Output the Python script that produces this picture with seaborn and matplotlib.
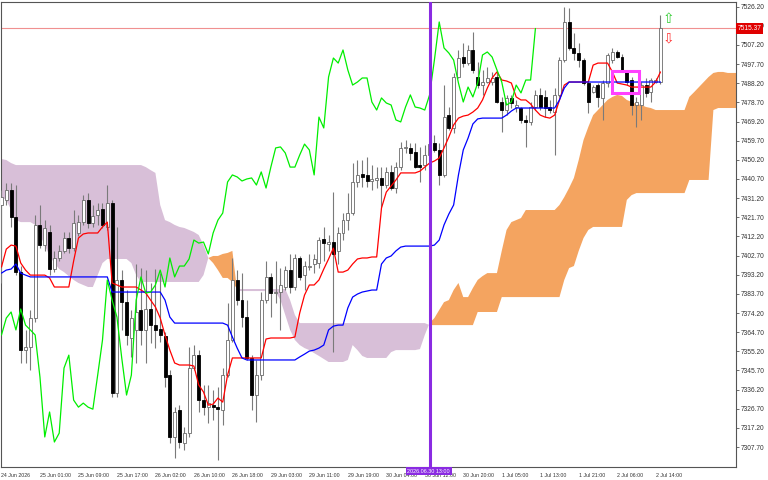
import matplotlib
matplotlib.use("Agg")
import matplotlib.pyplot as plt
import matplotlib.transforms as mtransforms
from matplotlib.patches import Rectangle
import numpy as np
import pandas as pd
import seaborn as sns

# ── hourly candles (bar index 0 .. 137) ────────────────────────────────────
opens = [
    7427.8, 7430.3, 7435.2, 7421.8, 7394.5, 7355.8, 7357.3, 7371.7, 7417.9, 7407.9,
    7414.4, 7396.0, 7401.5, 7405.0, 7411.4, 7406.4, 7413.9, 7419.3, 7430.3, 7418.8,
    7422.8, 7425.8, 7416.9, 7428.8, 7334.5, 7390.6, 7379.6, 7361.8, 7365.8, 7375.7,
    7365.8, 7376.2, 7368.2, 7366.3, 7362.8, 7343.4, 7312.7, 7326.1, 7309.7, 7314.6,
    7346.9, 7353.3, 7331.0, 7327.5, 7328.5, 7327.5, 7326.1, 7343.4, 7360.8, 7390.6,
    7380.6, 7372.2, 7351.9, 7333.5, 7343.4, 7380.6, 7392.1, 7384.1, 7384.6, 7387.1,
    7395.5, 7387.1, 7401.5, 7393.0, 7397.0, 7398.5, 7399.0, 7410.9, 7408.4, 7409.4,
    7405.0, 7413.9, 7420.3, 7423.8, 7439.2, 7443.2, 7442.7, 7439.7, 7440.2, 7441.2,
    7437.7, 7444.2, 7436.2, 7446.6, 7456.1, 7456.1, 7454.1, 7447.6, 7447.6, 7452.6,
    7458.5, 7455.1, 7442.7, 7472.4, 7466.0, 7491.3, 7501.2, 7498.2, 7504.7, 7491.3,
    7487.3, 7488.8, 7488.8, 7491.3, 7478.9, 7474.9, 7480.9, 7476.4, 7475.9, 7470.0,
    7469.0, 7476.4, 7482.4, 7481.4, 7476.4, 7473.9, 7482.4, 7499.7, 7518.6, 7505.7,
    7503.2, 7499.7, 7488.3, 7483.8, 7487.3, 7480.9, 7488.3, 7499.7, 7503.7, 7501.2,
    7493.8, 7489.8, 7477.4, 7477.4, 7487.3, 7483.8, 7488.8, 7488.8,
]
highs = [
    7435.2, 7438.7, 7438.7, 7437.7, 7397.5, 7365.8, 7375.7, 7422.8, 7427.8, 7420.3,
    7417.9, 7405.0, 7407.9, 7414.4, 7414.4, 7425.3, 7422.8, 7432.7, 7433.7, 7427.8,
    7428.8, 7428.8, 7437.7, 7430.3, 7416.9, 7395.5, 7385.6, 7375.7, 7398.5, 7396.5,
    7395.5, 7389.1, 7396.0, 7394.0, 7364.8, 7345.9, 7327.5, 7328.5, 7317.6, 7357.3,
    7358.3, 7355.8, 7338.5, 7338.5, 7336.0, 7337.5, 7346.9, 7379.1, 7401.5, 7395.5,
    7394.0, 7380.6, 7353.3, 7350.9, 7384.6, 7400.0, 7394.0, 7400.0, 7396.5, 7397.5,
    7403.5, 7403.5, 7402.5, 7400.0, 7403.5, 7403.5, 7411.9, 7416.9, 7412.9, 7434.2,
    7416.9, 7423.8, 7433.7, 7448.6, 7450.1, 7450.1, 7451.6, 7447.6, 7446.6, 7446.6,
    7446.6, 7447.6, 7449.1, 7459.0, 7460.0, 7458.5, 7458.5, 7456.6, 7457.5, 7461.0,
    7462.5, 7458.5, 7487.3, 7476.4, 7493.3, 7504.7, 7508.2, 7507.2, 7513.6, 7498.7,
    7494.8, 7496.3, 7493.8, 7493.3, 7481.4, 7482.4, 7482.4, 7479.9, 7476.4, 7472.4,
    7478.9, 7484.8, 7485.8, 7484.8, 7479.9, 7485.8, 7501.2, 7526.0, 7525.5, 7513.1,
    7508.2, 7500.7, 7488.8, 7487.3, 7488.3, 7489.8, 7503.2, 7505.7, 7504.7, 7502.7,
    7494.8, 7491.3, 7481.4, 7488.8, 7490.8, 7490.8, 7490.8, 7522.1,
]
lows = [
    7389.1, 7427.8, 7416.9, 7393.0, 7349.4, 7349.4, 7345.9, 7369.7, 7406.4, 7405.0,
    7393.0, 7394.5, 7400.0, 7404.0, 7404.0, 7405.0, 7412.4, 7417.9, 7416.4, 7416.9,
    7417.9, 7416.4, 7415.4, 7332.5, 7332.5, 7365.8, 7358.3, 7352.4, 7349.4, 7358.3,
    7349.4, 7359.3, 7356.8, 7359.8, 7337.5, 7309.7, 7302.2, 7307.2, 7306.2, 7312.7,
    7345.9, 7325.1, 7323.6, 7319.6, 7321.1, 7301.2, 7318.6, 7342.4, 7359.8, 7378.2,
    7367.2, 7350.9, 7326.1, 7320.1, 7340.9, 7379.1, 7372.2, 7379.1, 7365.8, 7385.6,
    7384.1, 7385.6, 7390.6, 7385.6, 7395.5, 7394.0, 7396.5, 7400.0, 7405.0, 7354.8,
    7398.5, 7410.4, 7415.4, 7422.8, 7436.7, 7436.7, 7436.7, 7435.2, 7436.2, 7426.8,
    7436.2, 7435.2, 7433.7, 7445.1, 7453.6, 7450.1, 7446.1, 7439.2, 7445.1, 7450.1,
    7454.1, 7437.7, 7441.7, 7465.0, 7463.5, 7490.8, 7496.3, 7497.2, 7493.3, 7485.8,
    7482.4, 7488.3, 7487.3, 7478.4, 7464.0, 7472.4, 7475.9, 7473.9, 7468.5, 7456.6,
    7467.5, 7474.9, 7474.9, 7471.4, 7473.4, 7452.6, 7481.4, 7498.7, 7504.7, 7499.7,
    7496.3, 7487.3, 7473.4, 7483.4, 7476.4, 7470.0, 7486.3, 7498.2, 7500.7, 7493.8,
    7487.3, 7472.4, 7466.5, 7470.0, 7481.4, 7478.9, 7488.3, 7487.8,
]
closes = [
    7431.7, 7435.2, 7421.8, 7394.5, 7355.8, 7357.3, 7371.7, 7417.9, 7407.9, 7416.4,
    7396.0, 7401.5, 7405.0, 7411.4, 7406.4, 7418.8, 7419.3, 7430.3, 7418.8, 7422.3,
    7425.3, 7417.9, 7428.8, 7334.5, 7390.6, 7379.6, 7363.3, 7371.7, 7374.7, 7365.8,
    7376.2, 7368.2, 7365.8, 7363.3, 7342.4, 7312.7, 7325.1, 7310.2, 7314.6, 7346.9,
    7353.3, 7331.0, 7327.5, 7329.5, 7327.5, 7326.5, 7343.4, 7360.8, 7390.6, 7380.6,
    7372.2, 7351.9, 7333.5, 7343.4, 7380.6, 7392.1, 7384.1, 7384.6, 7388.1, 7395.5,
    7387.1, 7401.5, 7392.1, 7397.5, 7397.5, 7401.0, 7410.4, 7408.9, 7409.4, 7403.5,
    7413.9, 7420.3, 7423.8, 7439.2, 7442.7, 7441.7, 7439.7, 7440.7, 7441.2, 7437.7,
    7444.2, 7436.2, 7446.6, 7456.1, 7456.6, 7453.6, 7446.6, 7446.6, 7452.6, 7458.0,
    7455.1, 7442.7, 7471.4, 7466.0, 7491.3, 7500.7, 7498.2, 7504.7, 7494.8, 7487.3,
    7488.8, 7490.8, 7490.8, 7478.9, 7474.9, 7480.9, 7478.4, 7477.4, 7470.0, 7469.0,
    7476.4, 7482.4, 7476.4, 7475.9, 7474.9, 7482.4, 7499.7, 7518.6, 7505.7, 7503.2,
    7499.7, 7488.3, 7478.9, 7486.3, 7481.4, 7488.3, 7502.2, 7503.7, 7501.2, 7494.8,
    7488.8, 7477.4, 7478.9, 7487.3, 7483.4, 7489.8, 7489.8, 7515.37,
]

# ── Ichimoku lines (same bars) ─────────────────────────────────────────────
tenkan = [
    7397.0, 7405.9, 7407.9, 7407.4, 7399.0, 7395.5, 7393.0, 7393.0, 7393.0, 7393.0,
    7391.6, 7387.1, 7387.1, 7387.1, 7387.1, 7400.0, 7411.4, 7413.4, 7413.9, 7413.9,
    7413.9, 7416.9, 7419.3, 7389.1, 7388.1, 7387.1, 7387.1, 7387.1, 7387.1, 7385.6,
    7384.1, 7380.6, 7377.2, 7371.7, 7363.3, 7355.8, 7349.4, 7348.4, 7348.4, 7348.4,
    7347.9, 7338.5, 7335.0, 7328.5, 7329.0, 7332.0, 7330.0, 7343.4, 7351.9, 7351.9,
    7351.9, 7351.9, 7351.9, 7351.9, 7351.9, 7361.3, 7361.8, 7361.8, 7361.8, 7361.8,
    7361.8, 7362.3, 7374.2, 7383.1, 7388.1, 7388.1, 7390.6, 7396.0, 7401.0, 7406.4,
    7394.5, 7394.5, 7395.5, 7398.5, 7401.0, 7401.5, 7401.5, 7402.0, 7402.0, 7426.3,
    7434.2, 7437.2, 7440.2, 7443.7, 7443.7, 7443.7, 7443.7, 7444.6, 7446.6, 7448.6,
    7449.6, 7451.1, 7456.1, 7461.5, 7467.5, 7470.9, 7471.9, 7472.4, 7473.9, 7475.9,
    7479.9, 7485.8, 7490.8, 7493.8, 7489.8, 7489.3, 7488.3, 7481.4, 7479.9, 7479.9,
    7477.9, 7474.9, 7472.4, 7471.4, 7470.9, 7472.4, 7479.9, 7487.3, 7488.8, 7488.8,
    7488.8, 7488.8, 7488.8, 7497.2, 7498.2, 7498.2, 7498.2, 7493.8, 7488.3, 7487.8,
    7487.3, 7486.3, 7486.3, 7486.3, 7486.3, 7486.3, 7488.8, 7493.8,
]
kijun = [
    7394.0, 7395.5, 7396.0, 7398.5, 7394.0, 7393.0, 7392.1, 7392.1, 7392.1, 7392.1,
    7392.1, 7392.1, 7392.1, 7392.1, 7392.1, 7392.1, 7392.1, 7392.1, 7392.1, 7392.1,
    7392.1, 7392.1, 7392.1, 7384.6, 7384.6, 7384.6, 7384.6, 7384.6, 7384.6, 7384.6,
    7384.6, 7384.6, 7384.6, 7384.6, 7380.6, 7372.2, 7369.2, 7369.2, 7369.2, 7369.2,
    7369.2, 7369.2, 7369.2, 7369.2, 7369.2, 7369.2, 7369.2, 7368.2, 7362.3, 7356.8,
    7351.9, 7350.9, 7350.9, 7350.9, 7350.9, 7350.9, 7350.9, 7350.9, 7350.9, 7350.9,
    7350.9, 7350.9, 7352.4, 7353.8, 7355.3, 7355.8, 7356.8, 7358.3, 7365.8, 7367.7,
    7368.2, 7368.2, 7376.7, 7382.1, 7383.6, 7384.6, 7385.1, 7385.6, 7385.6, 7398.5,
    7401.5, 7402.5, 7405.0, 7406.9, 7407.4, 7407.4, 7407.4, 7407.4, 7407.4, 7407.4,
    7407.9, 7410.4, 7417.9, 7423.3, 7427.8, 7442.7, 7455.1, 7461.0, 7468.0, 7470.5,
    7470.9, 7470.9, 7470.9, 7470.9, 7470.9, 7472.4, 7474.4, 7475.9, 7475.9, 7475.9,
    7475.9, 7475.9, 7475.9, 7475.9, 7475.9, 7475.9, 7479.9, 7485.8, 7488.8, 7488.8,
    7488.8, 7488.8, 7488.8, 7488.8, 7488.8, 7488.8, 7488.8, 7488.8, 7488.8, 7488.8,
    7488.8, 7488.8, 7488.8, 7488.8, 7488.8, 7488.8, 7488.8, 7488.8,
]

# ── cloud spans, already shifted 26 bars ahead (bar 0 .. 153) ──────────────
span_a = [
    7431.7, 7430.3, 7425.3, 7420.3, 7419.3, 7419.3, 7419.3, 7417.9, 7412.9, 7407.9,
    7402.5, 7399.0, 7396.0, 7394.5, 7392.5, 7390.6, 7389.1, 7388.1, 7387.1, 7387.1,
    7393.0, 7399.0, 7401.0, 7401.0, 7401.0, 7401.0, 7401.0, 7399.0, 7393.0, 7389.6,
    7389.6, 7389.6, 7389.6, 7389.6, 7389.6, 7389.6, 7389.6, 7389.6, 7389.6, 7389.6,
    7389.6, 7389.6, 7393.0, 7401.5, 7402.5, 7402.5, 7403.5, 7404.0, 7405.0, 7385.1,
    7385.1, 7385.1, 7385.1, 7385.1, 7385.1, 7385.1, 7385.1, 7384.6, 7380.6, 7373.2,
    7365.8, 7360.8, 7358.3, 7356.8, 7355.8, 7354.3, 7352.9, 7351.4, 7349.9, 7349.9,
    7349.9, 7349.9, 7350.9, 7358.3, 7355.8, 7352.9, 7351.9, 7351.9, 7351.9, 7351.9,
    7351.9, 7354.8, 7355.8, 7355.8, 7355.8, 7355.8, 7355.8, 7356.3, 7363.3, 7369.2,
    7371.7, 7375.7, 7379.6, 7380.6, 7385.6, 7389.1, 7382.1, 7382.1, 7386.6, 7390.6,
    7392.5, 7394.0, 7394.0, 7394.0, 7405.0, 7415.4, 7419.3, 7420.3, 7421.3, 7425.3,
    7425.3, 7425.3, 7425.3, 7425.3, 7425.3, 7425.3, 7427.8, 7431.7, 7436.2, 7441.2,
    7450.1, 7460.0, 7466.5, 7472.4, 7474.9, 7477.4, 7479.9, 7481.4, 7482.4, 7481.9,
    7479.9, 7478.9, 7477.9, 7477.4, 7476.4, 7475.9, 7474.9, 7474.9, 7474.9, 7474.9,
    7474.9, 7474.9, 7474.9, 7481.4, 7483.8, 7486.3, 7488.8, 7491.3, 7493.3, 7493.8,
    7493.8, 7493.3, 7493.3, 7493.3,
]
span_b = [
    7450.6, 7450.1, 7448.6, 7447.6, 7447.6, 7447.6, 7447.6, 7447.6, 7447.6, 7447.6,
    7447.6, 7447.6, 7447.6, 7447.6, 7447.6, 7447.6, 7447.6, 7447.6, 7447.6, 7447.6,
    7447.6, 7447.6, 7447.6, 7447.6, 7447.6, 7447.6, 7447.6, 7447.6, 7447.6, 7447.6,
    7446.6, 7445.1, 7443.7, 7427.8, 7420.3, 7419.3, 7417.9, 7416.9, 7416.4, 7415.4,
    7414.4, 7412.9, 7407.9, 7401.5, 7399.0, 7395.5, 7391.6, 7391.6, 7389.6, 7386.1,
    7386.1, 7386.1, 7386.1, 7386.1, 7386.1, 7386.1, 7386.1, 7386.1, 7386.1, 7386.1,
    7380.6, 7373.2, 7369.2, 7369.2, 7369.2, 7369.2, 7369.2, 7369.2, 7369.2, 7369.2,
    7369.2, 7369.2, 7369.2, 7369.2, 7369.2, 7369.2, 7369.2, 7369.2, 7369.2, 7369.2,
    7369.2, 7369.2, 7369.2, 7369.2, 7369.2, 7369.2, 7369.2, 7369.2, 7369.2, 7368.2,
    7368.2, 7368.2, 7368.2, 7368.2, 7368.2, 7368.2, 7368.2, 7368.2, 7368.2, 7374.7,
    7374.7, 7374.7, 7374.7, 7374.7, 7382.1, 7382.1, 7382.1, 7382.1, 7382.1, 7382.1,
    7382.1, 7382.1, 7382.1, 7382.1, 7382.1, 7382.1, 7382.1, 7390.6, 7396.5, 7397.5,
    7405.0, 7411.4, 7415.4, 7416.9, 7416.9, 7416.9, 7416.9, 7416.9, 7416.9, 7416.9,
    7430.3, 7432.7, 7433.7, 7433.7, 7433.7, 7433.7, 7433.7, 7433.7, 7433.7, 7433.7,
    7433.7, 7433.7, 7433.7, 7440.2, 7440.2, 7440.2, 7440.2, 7440.2, 7474.9, 7475.9,
    7475.9, 7475.9, 7475.9, 7475.9,
]

# ── axes labels / annotations ──────────────────────────────────────────────
xtick_bars = [0, 8, 16, 24, 32, 40, 48, 56, 64, 72, 80, 88, 96, 104, 112, 120, 128, 136]
xtick_labels = [
    "24 Jun 2026", "25 Jun 01:00", "25 Jun 09:00", "25 Jun 17:00", "26 Jun 02:00",
    "26 Jun 10:00", "26 Jun 18:00", "29 Jun 03:00", "29 Jun 11:00", "29 Jun 19:00",
    "30 Jun 04:00", "30 Jun 12:00", "30 Jun 20:00", "1 Jul 05:00", "1 Jul 13:00",
    "1 Jul 21:00", "2 Jul 06:00", "2 Jul 14:00",
]
ytick_vals = [
    7526.20, 7516.70, 7507.20, 7497.70, 7488.20, 7478.70, 7469.20, 7459.70,
    7450.20, 7440.70, 7431.20, 7421.70, 7412.20, 7402.70, 7393.20, 7383.70,
    7374.20, 7364.70, 7355.20, 7345.70, 7336.20, 7326.70, 7317.20, 7307.70,
]
last_price = 7515.37
marker_bar = 89
marker_label = "2026.06.30 13:00"
box_bars = (127.0, 132.5)
box_prices = (7483.6, 7494.5)
signal_bar = 138.6
signal_up_price = 7520.1
signal_down_price = 7510.6
CHIKOU_SHIFT = 26

sns.set_style("white")
plt.rcParams["font.family"] = ["Liberation Sans", "DejaVu Sans"]

fig = plt.figure(figsize=(7.68, 4.8), dpi=100)
ax = fig.add_axes([1 / 768, 13 / 480, 735 / 768, 465 / 480])

bars = np.arange(len(closes))
o, h, l, c = map(np.array, (opens, highs, lows, closes))
up = c >= o

# cloud
cx = np.arange(len(span_a))
sa, sb = np.array(span_a), np.array(span_b)
ax.fill_between(cx, sa, sb, where=sa >= sb, interpolate=True,
                color="#F4A460", lw=0, zorder=1)
ax.fill_between(cx, sa, sb, where=sa < sb, interpolate=True,
                color="#D8BFD8", lw=0, zorder=1)

# candles
ax.vlines(bars, l, h, colors="#7a7a7a", lw=0.8, zorder=3)
ax.bar(bars[up], np.maximum(c[up] - o[up], 0.3), bottom=o[up], width=0.62,
       color="white", edgecolor="#6a6a6a", lw=0.6, zorder=4)
ax.bar(bars[~up], np.maximum(o[~up] - c[~up], 0.3), bottom=c[~up], width=0.62,
       color="black", edgecolor="black", lw=0.6, zorder=4)

# ichimoku lines
lines = pd.DataFrame({"bar": bars, "tenkan": tenkan, "kijun": kijun})
sns.lineplot(data=lines, x="bar", y="tenkan", color="#FF0000", lw=0.9,
             estimator=None, ax=ax, zorder=5)
sns.lineplot(data=lines, x="bar", y="kijun", color="#0000FF", lw=0.9,
             estimator=None, ax=ax, zorder=5)
chikou = pd.DataFrame({"bar": bars[:-CHIKOU_SHIFT], "close": c[CHIKOU_SHIFT:]})
sns.lineplot(data=chikou, x="bar", y="close", color="#00EE00", lw=0.9,
             estimator=None, ax=ax, zorder=5)

# price line, vertical marker, box, signals
ax.axhline(last_price, color="#F09090", lw=0.8, zorder=2)
ax.axvline(marker_bar, color="#8A2BE2", lw=2.2, zorder=6)
ax.add_patch(Rectangle((box_bars[0], box_prices[0]), box_bars[1] - box_bars[0],
                       box_prices[1] - box_prices[0], fill=False,
                       edgecolor="#FF40FF", lw=2.2, zorder=7))
ax.text(signal_bar, signal_up_price, "\u21e7", color="#33CC33", fontsize=10,
        ha="center", va="center", family=["DejaVu Sans"], zorder=8)
ax.text(signal_bar, signal_down_price, "\u21e9", color="#FF3333", fontsize=10,
        ha="center", va="center", family=["DejaVu Sans"], zorder=8)

ax.set_xlim(-0.1, 152.7)
ax.set_ylim(7297.8, 7528.5)
ax.set_xlabel("")
ax.set_ylabel("")

ax.yaxis.tick_right()
ax.set_yticks(ytick_vals)
ax.set_yticklabels([f"{v:.2f}" for v in ytick_vals])
ax.tick_params(axis="y", direction="out", length=2.5, width=0.6, colors="#555555",
               labelsize=4.8, pad=1, labelcolor="#333333")
ax.set_xticks(xtick_bars)
ax.set_xticklabels(xtick_labels, ha="left")
ax.tick_params(axis="x", direction="out", length=3, width=0.6, colors="#555555",
               labelsize=3.8, pad=1, labelcolor="#333333")
for side in ["left", "right", "top", "bottom"]:
    ax.spines[side].set_color("#555555")
    ax.spines[side].set_linewidth(0.8)

# axis badges
ax.text(1.002, last_price, f"{last_price:.2f}", color="white", fontsize=4.8,
        ha="left", va="center",
        transform=mtransforms.blended_transform_factory(ax.transAxes, ax.transData),
        bbox=dict(boxstyle="square,pad=0.25", fc="#E00000", ec="none"),
        clip_on=False, zorder=10)
ax.text(marker_bar - 0.2, -0.004, marker_label, color="white", fontsize=3.9,
        ha="center", va="top",
        transform=mtransforms.blended_transform_factory(ax.transData, ax.transAxes),
        bbox=dict(boxstyle="square,pad=0.3", fc="#8A2BE2", ec="none"),
        clip_on=False, zorder=10)

fig.savefig("out.png", dpi=100)
